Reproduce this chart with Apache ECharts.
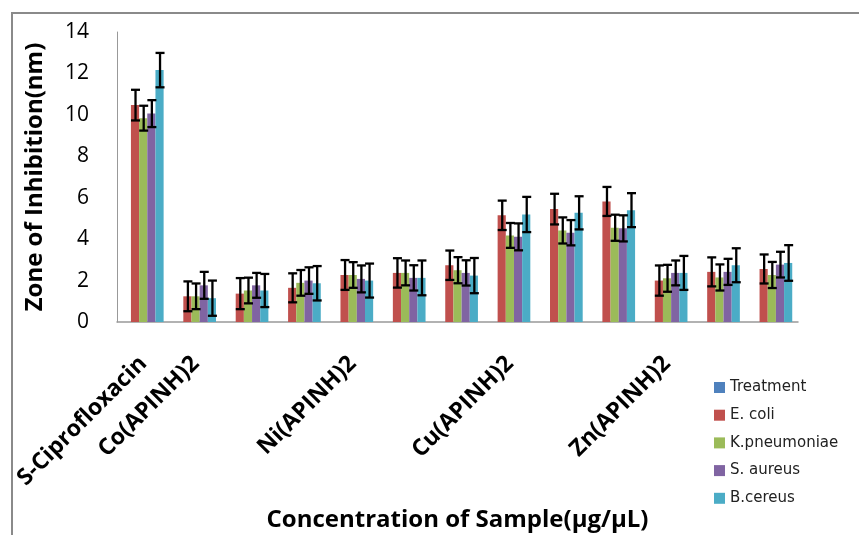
<!DOCTYPE html>
<html><head><meta charset="utf-8">
<script src="https://cdn.jsdelivr.net/npm/echarts@6/dist/echarts.min.js"></script>
<style>html,body{margin:0;padding:0;background:#fff}#c{width:859px;height:535px}</style>
</head><body><div id="c"></div>
<script>
const categories = ['S-Ciprofloxacin','Co(APINH)2','','','Ni(APINH)2','','','Cu(APINH)2','','','Zn(APINH)2','',''];
const seriesNames = ['Treatment','E. coli','K.pneumoniae','S. aureus','B.cereus'];
const colors = ['#4F81BD','#C0504D','#9BBB59','#8064A2','#4BACC6'];
const yTicks = [0,2,4,6,8,10,12,14];

const treatment = [null,null,null,null,null,null,null,null,null,null,null,null,null];
const ecoli   = [10.47,1.24,1.37,1.65,2.27,2.37,2.74,5.15,5.45,5.82,2.00,2.42,2.56];
const kpneu   = [9.84,1.24,1.52,1.89,2.27,2.37,2.50,4.18,4.42,4.55,2.11,2.15,2.27];
const saureus = [10.06,1.77,1.77,2.00,2.08,2.13,2.37,4.11,4.31,4.52,2.37,2.42,2.77];
const bcereus = [12.16,1.15,1.52,1.87,2.00,2.13,2.24,5.19,5.27,5.40,2.37,2.74,2.85];

const ecoliErr   = [0.74,0.72,0.75,0.70,0.72,0.71,0.71,0.71,0.74,0.70,0.73,0.70,0.70];
const kpneuErr   = [0.60,0.62,0.62,0.62,0.62,0.60,0.63,0.60,0.63,0.63,0.65,0.63,0.63];
const saureusErr = [0.65,0.65,0.60,0.64,0.65,0.61,0.61,0.65,0.61,0.63,0.60,0.63,0.62];
const bcereusErr = [0.83,0.85,0.80,0.83,0.82,0.84,0.85,0.85,0.80,0.82,0.82,0.82,0.86];

const GAP = 0.22;
const values = [treatment, ecoli, kpneu, saureus, bcereus];
const errs = [null, ecoliErr, kpneuErr, saureusErr, bcereusErr];

function errRenderer(si){
  return function(params, api){
    const x = api.value(0), v = api.value(1), e = api.value(2);
    const c = api.coord([x, v]);
    const band = api.size([1,0])[0];
    const gw = band*(1-GAP);
    const bw = gw/5;
    const cx = c[0] - gw/2 + (si+0.5)*bw + 0.5;
    const top = api.coord([x, v+e])[1], bot = api.coord([x, v-e])[1];
    const hw = 4.5;
    const st = {stroke:'#000', lineWidth:2.3};
    return {type:'group', children:[
      {type:'line', shape:{x1:cx,y1:top,x2:cx,y2:bot}, style:st},
      {type:'line', shape:{x1:cx-hw,y1:top,x2:cx+hw,y2:top}, style:st},
      {type:'line', shape:{x1:cx-hw,y1:bot,x2:cx+hw,y2:bot}, style:st}
    ]};
  };
}

const series = [];
seriesNames.forEach((n,i)=>{
  series.push({name:n, type:'bar', data:values[i], itemStyle:{color:colors[i]},
    barGap:'0%', barCategoryGap:(GAP*100)+'%', silent:true});
});
seriesNames.forEach((n,i)=>{
  if(!errs[i]) return;
  series.push({name:n+' err', type:'custom', renderItem:errRenderer(i), z:5, silent:true,
    data: values[i].map((v,k)=>[k, v, errs[i][k]])});
});

const chart = echarts.init(document.getElementById('c'));
chart.setOption({
  animation:false,
  backgroundColor:'#fff',
  graphic:[{type:'rect', shape:{x:12,y:13,width:900,height:600}, style:{fill:'none', stroke:'#8a8a8a', lineWidth:2}, silent:true}],
  grid:{left:117, right:61, top:32, bottom:213, containLabel:false, outerBoundsMode:'none'},
  legend:{orient:'vertical', left:709, top:375, itemWidth:11, itemHeight:11, itemGap:12.7,
    data:seriesNames, icon:'rect',
    textStyle:{fontFamily:'DejaVu Sans', fontSize:15, lineHeight:15, color:'#222'}},
  xAxis:{type:'category', data:categories,
    axisLine:{lineStyle:{color:'#999', width:1.5}}, axisTick:{show:false},
    axisLabel:{interval:0, rotate:45, margin:38, fontFamily:'Open Sans', fontWeight:'bold', fontSize:23, color:'#000'},
    name:'Concentration of Sample(µg/µL)', nameLocation:'middle', nameGap:186,
    nameTextStyle:{fontFamily:'Open Sans', fontWeight:'bold', fontSize:24, color:'#000'}},
  yAxis:{type:'value', min:0, max:14, interval:2,
    axisLine:{show:true, lineStyle:{color:'#999', width:1}}, axisTick:{show:false}, splitLine:{show:false},
    axisLabel:{margin:28, fontFamily:'Open Sans', fontSize:21, color:'#000',
      formatter:(v)=> yTicks.indexOf(v)>=0 ? String(v) : ''},
    name:'Zone of Inhibition(nm)', nameLocation:'middle', nameGap:70,
    nameTextStyle:{fontFamily:'Open Sans', fontWeight:'bold', fontSize:24, color:'#000'}},
  series: series
});
</script></body></html>
